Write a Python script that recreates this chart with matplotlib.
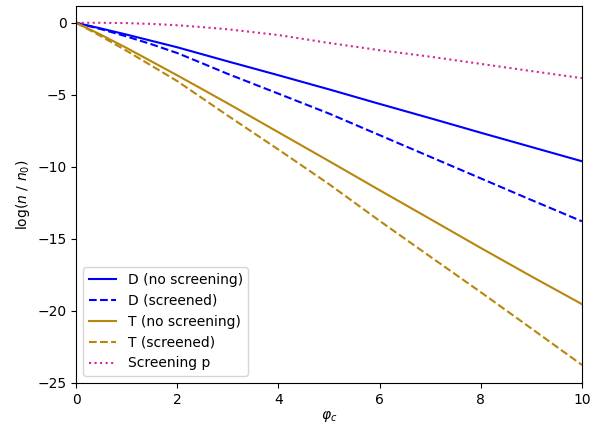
import matplotlib
matplotlib.use('Agg')
import matplotlib.pyplot as plt

# values
phi = [0, 0.5, 1, 1.5, 2, 2.5, 3, 4, 5, 6, 7, 8, 9, 10]
d_plain = [0, -0.40, -0.82, -1.26, -1.70, -2.19, -2.68, -3.64, -4.62, -5.63, -6.62, -7.63, -8.62, -9.61]
d_screened = [0, -0.45, -0.95, -1.50, -2.10, -2.82, -3.55, -4.92, -6.30, -7.80, -9.30, -10.80, -12.30, -13.78]
t_plain = [0, -0.85, -1.75, -2.70, -3.65, -4.62, -5.60, -7.60, -9.60, -11.62, -13.62, -15.63, -17.60, -19.53]
t_screened = [0, -0.95, -1.95, -3.00, -4.05, -5.25, -6.45, -8.80, -11.20, -13.75, -16.23, -18.70, -21.22, -23.75]
screen_p = [0, 0.0, -0.02, -0.08, -0.17, -0.30, -0.45, -0.85, -1.40, -1.90, -2.35, -2.85, -3.35, -3.84]

fig, ax = plt.subplots(figsize=(5.95, 4.25), dpi=100)
fig.subplots_adjust(left=0.128, right=0.978, top=0.987, bottom=0.099)

ax.plot(phi, d_plain, color='blue', label='D (no screening)')
ax.plot(phi, d_screened, color='blue', linestyle='--', label='D (screened)')
ax.plot(phi, t_plain, color='darkgoldenrod', label='T (no screening)')
ax.plot(phi, t_screened, color='darkgoldenrod', linestyle='--', label='T (screened)')
ax.plot(phi, screen_p, color='#d6249a', linestyle=':', label='Screening p')

ax.set_xlim(0, 10)
ax.set_ylim(-25, 1.2)
ax.set_xlabel(r'$\varphi_c$', labelpad=1.5)
ax.set_ylabel(r'$\log(n\ /\ n_0)$')
ax.legend(loc='lower left')

fig.savefig('out.png', dpi=100)
